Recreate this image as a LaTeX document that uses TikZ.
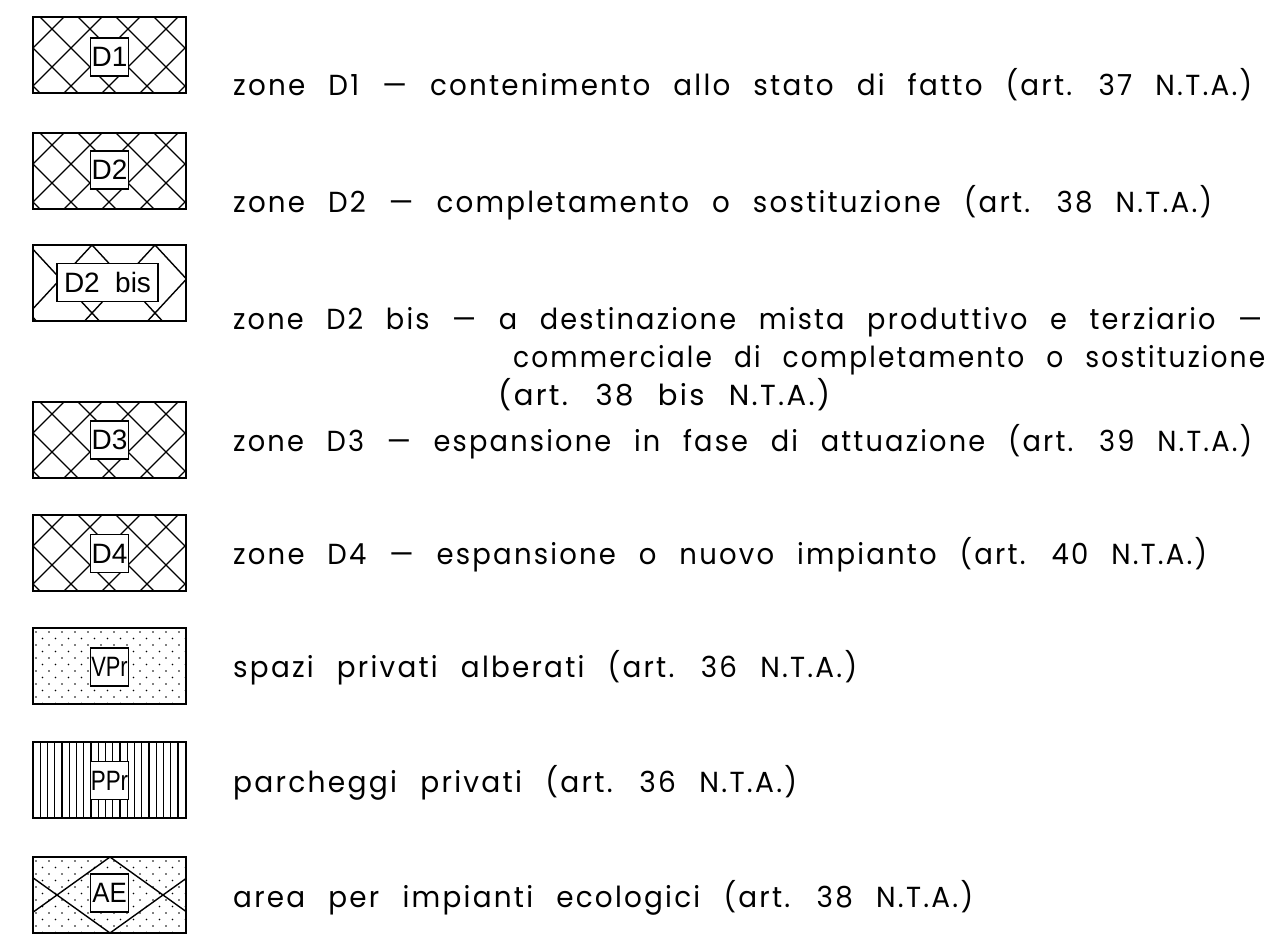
\documentclass[tikz,border=0pt]{standalone}
\usepackage{fontspec}
\setmainfont{Liberation Sans}
\newfontfamily\cad[LetterSpace=8,WordSpace=2.4]{Poppins}
\tikzset{
  hatch/.style={line width=1.4pt},
  frame/.style={draw, line width=2pt},
  tag/.style={draw, fill=white, line width=1.6pt, minimum width=38pt, minimum height=38pt, inner sep=0pt, font=\fontsize{28}{28}\selectfont},
  txt/.style={anchor=base west, inner sep=0pt, font=\cad\fontsize{29}{29}\selectfont}
}
\newsavebox\linebox
\newcommand{\fitto}[2]{\sbox\linebox{#2}\scalebox{\fpeval{#1/\wd\linebox}}[1]{\usebox\linebox}}
\newcommand{\xhatch}[5]{%
  \begin{scope}
    \clip (33,#1) rectangle (186,{#1+76});
    \foreach \k in {-6,...,9}{
      \draw[hatch] ({33+#4+\k*#2-150},{#1+#5-#3*150}) -- ({33+#4+\k*#2+150},{#1+#5+#3*150});
      \draw[hatch] ({33+#4+\k*#2-150},{#1+#5+#3*150}) -- ({33+#4+\k*#2+150},{#1+#5-#3*150});
    }
  \end{scope}}
\newcommand{\stipple}[1]{%
  \begin{scope}
    \clip (33,#1) rectangle (186,{#1+76});
    \foreach \i in {0,...,11}{
      \foreach \j in {0,...,12}{
        \fill ({36+\j*13+mod(\i,2)*6.5},{#1+4+\i*6.5}) circle (0.9);
      }
    }
  \end{scope}}
\newcommand{\swframe}[1]{\draw[frame] (33,#1) rectangle (186,{#1+76});}
\begin{document}
\begin{tikzpicture}[x=1pt,y=-1pt]
\useasboundingbox (0,0) rectangle (1268,936);

% D1
\xhatch{17}{38}{1}{19}{12}
\swframe{17}
\node[tag] (l1) at (109.5,57) {D1};
% D2
\xhatch{133}{38}{1}{19}{12}
\swframe{133}
\node[tag] (l2) at (109.5,170) {D2};
% D2 bis
\xhatch{245}{63}{1.08}{59}{0}
\swframe{245}
\node[tag, minimum width=101pt] (l3) at (107.5,282.5) {D2\hspace{0.55em}bis};
% D3
\xhatch{402}{38}{1}{19}{12}
\swframe{402}
\node[tag] (l4) at (109.5,440) {D3};
% D4
\xhatch{515}{38}{1}{19}{12}
\swframe{515}
\node[tag] (l5) at (109.5,553.5) {D4};
% VPr
\stipple{628}
\swframe{628}
\node[tag] (l6) at (109.5,667) {\scalebox{0.78}[1]{VPr}};
% PPr
\begin{scope}
  \foreach \k in {1,...,20}{\draw[line width=1.3pt] ({33+\k*7.25},742) -- ({33+\k*7.25},818);}
\end{scope}
\swframe{742}
\node[tag] (l7) at (109.5,780.5) {\scalebox{0.8}[1]{PPr}};
% AE
\stipple{857}
\xhatch{857}{106}{0.717}{77}{0}
\swframe{857}
\node[tag] (l8) at (109.5,893) {\scalebox{0.92}[1]{AE}};

% texts
\node[txt] (t1) at (233,96) {\fitto{1019pt}{zone D1 — contenimento allo stato di fatto (art. 37 N.T.A.)}};
\node[txt] (t2) at (233,212) {\fitto{979pt}{zone D2 — completamento o sostituzione (art. 38 N.T.A.)}};
\node[txt] (t3) at (233,329) {\fitto{1029pt}{zone D2 bis — a destinazione mista produttivo e terziario —}};
\node[txt] (t3b) at (513,367) {\fitto{752pt}{commerciale di completamento o sostituzione}};
\node[txt] (t3c) at (498,405) {\fitto{332pt}{(art. 38 bis N.T.A.)}};
\node[txt] (t4) at (233,451) {\fitto{1019pt}{zone D3 — espansione in fase di attuazione (art. 39 N.T.A.)}};
\node[txt] (t5) at (233,564) {\fitto{974pt}{zone D4 — espansione o nuovo impianto (art. 40 N.T.A.)}};
\node[txt] (t6) at (233,677) {\fitto{624pt}{spazi privati alberati (art. 36 N.T.A.)}};
\node[txt] (t7) at (233,792) {\fitto{564pt}{parcheggi privati (art. 36 N.T.A.)}};
\node[txt] (t8) at (233,907) {\fitto{740pt}{area per impianti ecologici (art. 38 N.T.A.)}};
\end{tikzpicture}
\end{document}
